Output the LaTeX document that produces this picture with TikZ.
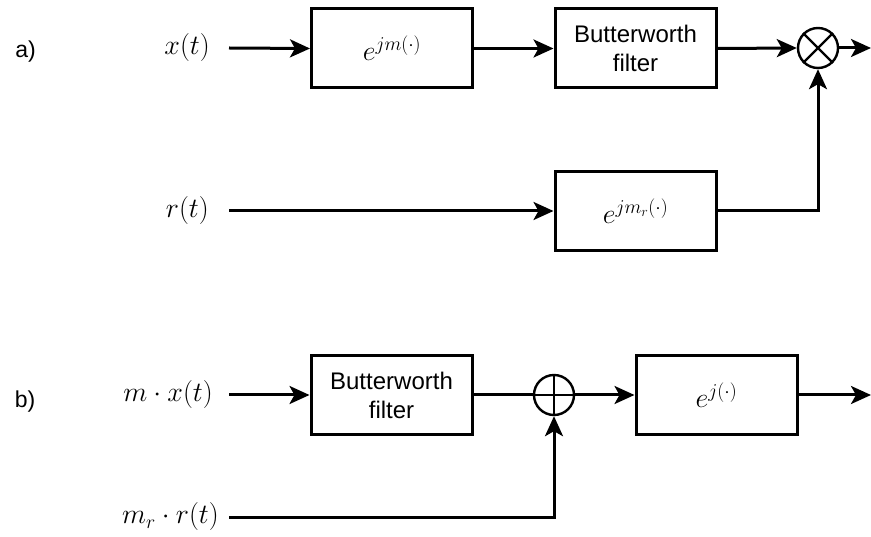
\RequirePackage{fix-cm}
\documentclass[tikz,border=0pt]{standalone}
\usepackage{fontspec}
\newfontfamily\sansfnt{Liberation Sans}
\usetikzlibrary{arrows.meta}
\begin{document}
\begin{tikzpicture}[x=1pt,y=-1pt,
  blk/.style={draw, line width=3pt, minimum width=161pt, minimum height=79pt, inner sep=0pt, align=center},
  mathtxt/.style={font=\fontsize{28}{32}\selectfont},
  bwtxt/.style={font=\sansfnt\fontsize{24}{29}\selectfont},
  lbl/.style={font=\fontsize{28}{32}\selectfont, anchor=east, inner ysep=0pt},
  tag/.style={font=\sansfnt\fontsize{23}{26}\selectfont, inner sep=0pt},
  junc/.style={draw, circle, line width=2.4pt, minimum size=40pt, inner sep=0pt},
  wire/.style={line width=3pt},
  arr/.style={wire, -{Stealth[length=20pt, width=18pt, inset=5pt]}}
]
\useasboundingbox (0,0) rectangle (871,537);

% ---------- a) ----------
\node[tag] (taga) at (25.5,52) {a)};
\node[lbl, inner xsep=19pt] (xin) at (229,48) {$x(t)$};
\node[lbl, inner xsep=20pt] (rin) at (229,211) {$r(t)$};
\node[blk, mathtxt] (expm) at (392,48.5) {$e^{jm(\cdot)}$};
\node[blk, bwtxt] (bw1) at (635.5,48.5) {Butterworth\\filter};
\node[blk, mathtxt] (expmr) at (635.5,211) {$e^{jm_r(\cdot)}$};
\node[junc] (mul) at (818,48) {};
\draw[line width=2.4pt] (mul.north east) -- (mul.south west) (mul.north west) -- (mul.south east);
\coordinate (outa) at (871,48);

\draw[arr] (xin.east) -- (expm.west);
\draw[arr] (expm.east) -- (bw1.west);
\draw[arr] (bw1.east) -- (mul.west);
\draw[arr] (rin.east) -- (expmr.west);
\draw[arr] (expmr.east) -| (mul.south);
\draw[arr] (mul.east) -- (outa);

% ---------- b) ----------
\node[tag] (tagb) at (25,402) {b)};
\node[lbl, inner xsep=16pt] (mxin) at (229,395) {$m\cdot x(t)$};
\node[lbl, inner xsep=10pt] (mrin) at (229,517) {$m_r\cdot r(t)$};
\node[blk, bwtxt] (bw2) at (391.5,395) {Butterworth\\filter};
\node[junc] (add) at (554,395) {};
\draw[line width=2.4pt] (add.north) -- (add.south) (add.west) -- (add.east);
\node[blk, mathtxt] (expj) at (716.5,395) {$e^{j(\cdot)}$};
\coordinate (outb) at (871,395);

\draw[arr] (mxin.east) -- (bw2.west);
\draw[wire] (bw2.east) -- (add.west);
\draw[arr] (add.east) -- (expj.west);
\draw[arr] (expj.east) -- (outb);
\draw[arr] (mrin.east) -| (add.south);
\end{tikzpicture}
\end{document}
